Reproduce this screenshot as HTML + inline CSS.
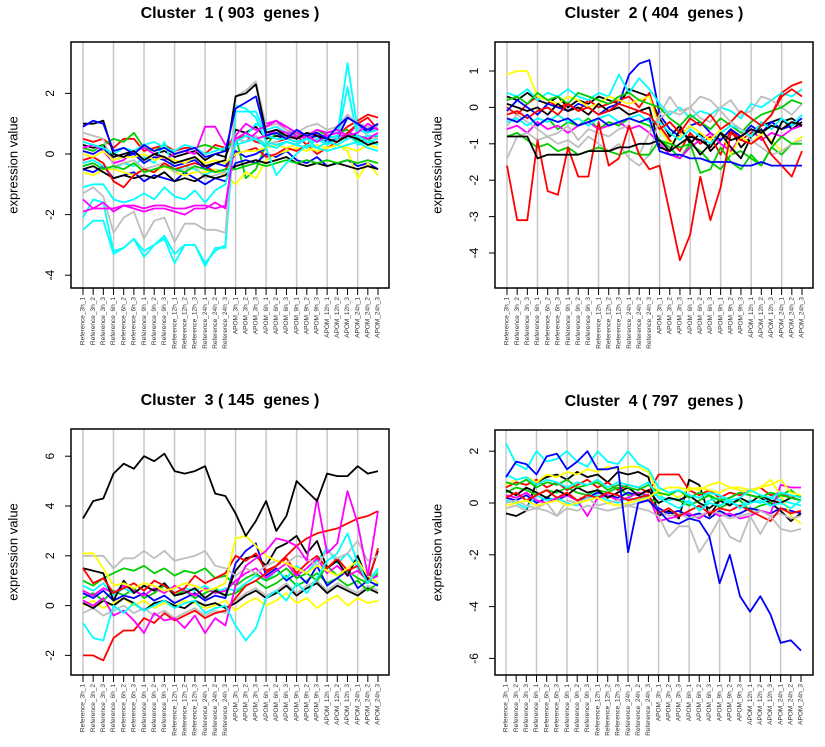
<!DOCTYPE html>
<html><head><meta charset="utf-8"><style>
body{margin:0;background:#fff}
svg{display:block;font-family:"Liberation Sans",sans-serif}
</style></head><body>
<svg id="c" width="825" height="747" viewBox="0 0 825 747" xmlns="http://www.w3.org/2000/svg"></svg>
<script>
const samples=["Reference_3h_1","Reference_3h_2","Reference_3h_3","Reference_6h_1","Reference_6h_2","Reference_6h_3","Reference_9h_1","Reference_9h_2","Reference_9h_3","Reference_12h_1","Reference_12h_2","Reference_12h_3","Reference_24h_1","Reference_24h_2","Reference_24h_3","APOM_3h_1","APOM_3h_2","APOM_3h_3","APOM_6h_1","APOM_6h_2","APOM_6h_3","APOM_9h_1","APOM_9h_2","APOM_9h_3","APOM_12h_1","APOM_12h_2","APOM_12h_3","APOM_24h_1","APOM_24h_2","APOM_24h_3"];
const clusterTitles=["Cluster  1 ( 903  genes )","Cluster  2 ( 404  genes )","Cluster  3 ( 145  genes )","Cluster  4 ( 797  genes )"];
const yTicks1=[-4,-2,0,2];
const yTicks2=[-4,-3,-2,-1,0,1];
const yTicks3=[-2,0,2,4,6];
const yTicks4=[-6,-4,-2,0,2];
const colors1=["black","red","green","blue","cyan","magenta","yellow","gray","black","red","blue","yellow","green","cyan","cyan","cyan","gray","magenta","magenta","cyan","black","blue"];
const series1=[
[0.3,0.2,0.3,-0.1,0.0,0.1,-0.2,0.0,0.1,-0.1,0.0,0.1,-0.2,0.0,-0.1,0.8,0.7,0.9,0.5,0.6,0.5,0.4,0.5,0.6,0.4,0.5,0.7,0.6,0.5,0.6],
[0.5,0.4,0.5,0.2,0.5,0.5,0.1,0.2,0.3,0.1,0.2,0.2,0.0,0.3,0.2,0.5,0.6,0.4,0.3,0.4,0.5,0.6,0.3,0.7,0.5,0.6,0.9,1.1,1.3,1.2],
[0.2,0.1,0.3,0.5,0.4,0.7,0.2,0.1,0.3,0.0,0.1,0.2,0.3,0.2,0.1,0.6,-0.8,-0.5,0.3,0.7,0.6,0.7,0.5,0.8,0.6,0.7,0.8,0.4,0.5,0.3],
[-0.5,-0.6,-0.4,-0.8,-0.7,-0.6,-0.9,-0.7,-0.8,-0.9,-0.6,-0.8,-1.0,-0.8,-0.9,-0.3,-0.2,-0.3,0.0,-0.1,0.1,-0.2,-0.3,-0.1,-0.4,-0.3,-0.2,-0.4,-0.3,-0.5],
[-0.3,-0.2,-0.4,-0.5,-0.3,-0.4,-0.1,-0.3,0.4,-0.6,-0.4,-0.5,-0.7,-0.5,-0.6,0.4,0.6,1.0,0.8,0.9,0.7,0.6,0.5,0.4,0.6,0.5,0.7,0.3,0.4,0.5],
[0.2,0.3,0.1,-0.3,-0.2,0.1,0.2,0.0,-0.2,0.0,0.1,0.0,0.9,0.9,0.3,0.5,0.4,0.7,1.0,1.1,0.8,0.6,0.5,0.4,0.7,0.8,0.6,1.0,0.9,0.8],
[-0.6,-0.7,-0.5,-0.5,-0.6,-0.7,-0.5,-0.6,-0.4,-0.6,-0.7,-0.6,-0.6,-0.5,-0.7,-1.0,-0.6,-0.8,-0.2,0.0,0.1,0.2,0.1,0.3,0.2,0.3,0.1,-0.8,-0.3,-0.7],
[0.7,0.6,0.5,-0.4,-0.3,-0.2,-0.5,-0.4,-0.3,-0.6,-0.5,-0.4,-0.8,-0.7,-0.6,0.5,0.4,0.6,0.3,0.4,0.6,0.5,0.7,0.5,0.3,0.6,1.3,0.9,0.6,0.5],
[-0.5,-0.4,-0.6,-0.8,-0.7,-0.8,-0.7,-0.8,-0.6,-0.9,-0.8,-0.9,-0.7,-0.8,-0.7,-0.4,-0.3,-0.2,-0.3,-0.2,-0.1,-0.3,-0.4,-0.3,-0.4,-0.3,-0.4,-0.5,-0.4,-0.5],
[-0.2,-0.1,-0.3,-0.9,-1.1,-0.7,-0.5,-0.6,-0.3,-0.5,-0.4,-0.3,-0.4,-0.6,-0.5,0.0,0.1,0.2,-0.1,0.0,0.2,0.1,0.3,0.0,0.2,0.4,0.7,1.0,1.2,0.8],
[0.1,0.0,0.2,-0.2,-0.1,0.0,-0.3,-0.1,-0.2,-0.4,-0.3,-0.2,-0.5,-0.3,-0.4,0.1,-0.1,0.0,0.2,0.3,0.4,0.3,0.5,0.6,0.4,0.5,1.2,1.0,0.7,1.0],
[0.0,-0.1,0.1,-0.2,-0.1,-0.1,0.0,-0.2,-0.1,-0.2,-0.3,-0.1,-0.3,-0.2,-0.3,0.0,0.1,0.1,0.2,0.3,0.2,0.3,0.2,0.1,0.2,0.3,0.2,0.1,0.3,0.2],
[-0.4,-0.3,-0.5,-0.4,-0.5,-0.3,-0.6,-0.5,-0.4,-0.5,-0.6,-0.4,-0.5,-0.6,-0.5,-0.5,-0.4,-0.3,-0.4,-0.3,-0.2,-0.3,-0.2,-0.3,-0.2,-0.3,-0.2,-0.3,-0.2,-0.3],
[0.4,0.3,0.2,0.0,0.2,0.1,0.3,0.4,0.2,0.1,0.3,0.2,0.0,0.1,0.2,0.3,0.4,0.5,0.2,-0.7,-0.3,0.0,0.3,0.2,0.1,0.2,0.3,0.4,0.2,0.1],
[-2.5,-2.2,-2.2,-3.3,-3.1,-2.8,-3.4,-3.0,-2.8,-3.6,-3.0,-3.0,-3.7,-3.1,-3.1,1.4,1.4,1.4,0.6,0.5,0.5,0.4,0.5,0.4,0.5,0.6,3.0,0.8,0.7,0.8],
[-2.1,-1.5,-1.6,-3.2,-3.1,-2.8,-3.2,-3.0,-2.7,-3.3,-3.0,-3.0,-3.6,-3.2,-3.0,1.6,1.5,1.2,0.4,0.3,0.4,0.3,0.2,0.5,0.3,0.5,2.2,0.5,0.6,0.6],
[-1.3,-1.1,-1.4,-2.6,-2.1,-1.9,-2.8,-2.2,-2.1,-2.9,-2.3,-2.3,-2.5,-2.5,-2.6,1.9,2.1,2.4,0.9,1.0,0.8,0.7,0.9,1.0,0.8,0.9,1.3,1.0,0.9,0.9],
[-1.9,-1.8,-1.6,-1.9,-1.7,-1.8,-1.9,-1.8,-1.8,-1.9,-2.0,-1.8,-1.8,-1.6,-1.8,0.6,1.0,0.8,0.9,1.1,0.9,0.7,0.6,0.8,0.7,0.8,0.6,0.7,1.0,0.8],
[-1.5,-1.8,-1.8,-1.8,-1.7,-1.7,-1.8,-1.7,-1.7,-1.8,-1.8,-1.7,-1.7,-1.8,-1.7,0.5,0.7,0.5,0.6,0.8,0.7,0.5,0.6,0.4,0.6,0.7,0.5,0.6,0.5,0.7],
[-1.1,-1.0,-1.0,-1.5,-1.6,-1.5,-1.3,-1.5,-1.1,-1.4,-1.5,-1.2,-1.6,-1.2,-1.0,0.4,0.6,0.5,0.3,0.2,0.4,0.3,0.5,0.2,0.4,0.3,0.5,0.6,0.4,0.3],
[1.0,1.0,1.1,0.0,-0.1,0.1,-0.2,0.0,-0.1,-0.3,-0.2,-0.1,-0.4,-0.3,-0.2,1.9,2.0,2.3,0.7,0.8,0.6,0.5,0.7,0.6,0.5,0.4,0.6,0.5,0.3,0.4],
[0.9,1.1,1.0,0.1,0.2,0.0,0.3,0.1,0.2,0.0,0.1,0.2,-0.1,0.0,0.1,1.5,1.7,1.9,0.6,0.7,0.5,0.8,0.6,0.7,0.5,0.9,1.2,1.0,0.8,1.0]];
const colors2=["black","red","green","blue","cyan","magenta","yellow","gray","black","green","cyan","red","gray","green","red","black","blue"];
const series2=[
[0.3,0.2,0.4,0.2,0.1,0.3,0.0,0.2,0.1,0.3,0.2,0.1,0.5,0.4,0.3,-0.3,-0.8,-0.5,-1.0,-0.7,-1.2,-0.9,-0.6,-1.1,-0.8,-0.5,-0.4,-0.3,-0.6,-0.4],
[0.0,-0.2,0.1,0.3,0.2,0.0,0.1,-0.1,0.2,0.0,0.1,0.2,0.3,0.0,0.4,-0.5,-0.9,-1.2,-0.7,-1.0,-0.8,-1.3,-0.6,-0.9,-0.7,-0.5,-0.2,0.4,0.6,0.7],
[-0.3,-0.4,-0.2,-0.5,-0.3,-0.6,-0.4,-0.5,-0.3,-0.6,-0.4,-0.5,-0.3,-0.4,-0.5,-0.9,-1.1,-1.4,-1.0,-1.2,-1.5,-1.7,-1.3,-1.2,-1.4,-1.6,-1.1,-1.3,-1.0,-0.8],
[-0.1,0.2,0.0,-0.2,0.1,0.0,-0.1,0.1,0.0,-0.2,0.0,0.1,0.9,1.2,1.3,-0.2,-0.6,-0.8,-0.5,-0.4,-0.7,-0.9,-0.6,-0.8,-0.5,-0.7,-0.4,-0.6,-0.5,-0.3],
[0.4,0.3,0.5,0.2,0.4,0.3,0.5,0.3,0.2,0.4,0.3,0.9,0.4,0.8,0.5,0.1,-0.2,0.0,-0.3,-0.1,-0.2,0.0,-0.1,-0.3,0.1,0.0,0.2,0.4,0.3,0.5],
[-0.6,-0.5,-0.7,-0.4,-0.6,-0.5,-0.7,-0.5,-0.4,-0.6,-0.5,-0.4,-0.6,-0.5,-0.7,-1.0,-1.3,-1.4,-1.1,-0.9,-0.7,-1.0,-1.2,-0.8,-0.6,-0.9,-0.7,-0.8,-0.6,-0.5],
[0.9,1.0,1.0,0.3,0.2,0.1,0.3,0.2,0.0,0.1,0.3,0.2,0.1,0.2,0.3,-0.6,-1.0,-0.8,-0.5,-0.7,-0.9,-0.6,-1.3,-0.8,-1.0,-0.7,-0.9,-1.2,-1.0,-0.8],
[-0.5,-0.2,-0.4,-0.6,-0.8,-0.7,-0.5,-0.9,-0.6,-0.7,-0.8,-0.6,-0.5,-1.3,-0.7,-0.2,0.3,-0.1,0.0,-0.3,-0.4,0.0,0.2,-0.2,-0.1,0.3,0.2,0.0,-0.2,0.1],
[0.1,0.0,-0.1,0.0,-0.2,0.1,-0.1,0.0,-0.2,0.1,-0.1,0.0,-0.2,-0.1,0.0,-1.1,-1.2,-0.6,-0.9,-1.3,-1.0,-0.7,-1.1,-1.4,-0.8,-0.6,-1.0,-0.4,-0.3,-0.5],
[0.2,0.3,0.1,0.4,0.2,0.3,0.1,0.4,0.3,0.2,0.1,0.3,0.4,0.2,0.1,0.0,-0.3,-0.5,-0.2,-0.4,-0.6,-0.3,-0.5,-0.7,-0.4,-0.2,-0.1,0.0,0.2,0.1],
[-0.4,-0.3,-0.5,-0.3,-0.4,-0.2,-0.4,-0.3,-0.5,-0.3,-0.2,-0.4,-0.3,-0.2,-0.4,-0.4,-0.7,-0.9,-0.6,-0.8,-1.0,-0.7,-0.5,-0.6,-0.8,-0.4,-0.6,-0.3,-0.5,-0.2],
[-0.2,-0.1,-0.3,-0.1,0.0,-0.2,0.1,-0.1,0.0,-0.2,-0.1,0.1,0.0,-0.1,-0.2,-0.6,-0.4,-0.7,-0.3,-0.5,-0.2,-0.6,-0.4,-0.1,-0.3,-0.5,-0.2,0.3,0.5,0.3],
[-1.4,-0.8,-0.7,-0.9,-0.8,-1.0,-0.9,-1.1,-0.8,-1.0,-1.2,-1.0,-1.4,-1.6,-1.3,-0.3,-0.1,-0.2,0.0,0.3,0.2,-0.1,-0.4,-0.6,-0.9,-1.1,-1.3,-1.2,-1.0,-0.9],
[-0.8,-0.7,-0.9,-1.1,-1.0,-1.2,-1.1,-1.3,-1.2,-1.1,-1.2,-1.3,-1.2,-1.3,-1.3,-0.9,-1.0,-1.1,-1.0,-1.8,-1.7,-1.1,-1.5,-1.7,-1.3,-1.6,-1.1,-0.8,-1.0,-1.0],
[-1.6,-3.1,-3.1,-0.9,-2.3,-2.4,-1.1,-1.9,-1.9,-0.4,-1.6,-1.4,-0.5,-1.3,-1.7,-1.6,-2.9,-4.2,-3.5,-1.9,-3.1,-2.2,-0.7,-0.9,-1.0,-0.8,-1.3,-1.6,-1.9,-1.2],
[-0.8,-0.8,-0.8,-1.4,-1.3,-1.3,-1.3,-1.3,-1.2,-1.2,-1.2,-1.1,-1.1,-1.0,-1.0,-0.9,-1.2,-1.0,-0.8,-0.9,-1.1,-0.7,-0.9,-0.8,-0.6,-0.7,-0.5,-0.6,-0.4,-0.5],
[-0.3,-0.4,-0.2,-0.5,-0.3,-0.4,-0.3,-0.5,-0.4,-0.3,-0.5,-0.4,-0.3,-0.4,-0.3,-1.2,-1.3,-1.3,-1.4,-1.4,-1.5,-1.5,-1.5,-1.6,-1.6,-1.5,-1.6,-1.6,-1.6,-1.6]];
const colors3=["yellow","gray","black","green","blue","cyan","green","magenta","black","red","gray","yellow","red","magenta","cyan","black"];
const series3=[
[0.0,0.2,-0.1,0.1,0.3,0.0,0.2,-0.1,0.1,0.0,0.2,0.1,-0.1,0.0,0.2,-0.2,0.1,0.3,0.0,0.2,0.5,0.1,0.3,-0.1,0.2,0.4,0.0,0.3,0.1,0.2],
[-0.3,-0.1,-0.4,-0.2,0.0,-0.3,-0.1,-0.4,-0.2,-0.5,-0.3,-0.1,-0.4,-0.2,-0.3,0.2,0.5,0.7,0.4,0.6,0.9,0.5,0.8,1.0,0.6,0.9,0.7,0.5,0.8,0.6],
[0.1,-0.1,0.2,0.0,0.3,0.1,-0.2,0.1,0.2,0.0,-0.1,0.2,0.0,0.1,-0.1,0.1,0.4,0.6,0.3,0.5,0.8,0.4,0.7,0.9,0.5,0.8,0.6,0.4,0.7,0.5],
[0.3,0.5,0.2,0.6,0.4,0.7,0.3,0.5,0.8,0.4,0.6,0.3,0.5,0.7,0.4,0.5,0.8,1.0,0.7,0.9,1.2,0.8,1.0,1.3,0.9,1.1,0.8,1.0,0.6,0.9],
[0.5,0.3,0.6,0.2,0.4,0.3,0.5,0.2,0.4,0.1,0.3,0.5,0.2,0.4,0.3,1.7,2.2,2.5,1.2,1.5,1.0,1.3,0.9,1.6,0.8,1.1,1.4,0.7,1.0,0.8],
[0.8,0.6,0.9,0.4,0.7,0.5,0.8,0.6,0.9,0.5,0.7,0.6,0.8,0.5,0.7,0.6,0.9,1.2,1.0,1.4,1.1,1.6,1.3,1.8,2.3,1.7,2.1,1.5,1.1,1.4],
[1.0,0.8,1.1,1.3,1.5,1.4,1.6,1.3,1.5,1.2,1.4,1.3,1.5,1.1,1.2,0.8,1.1,1.3,1.0,1.2,1.5,1.1,1.3,1.0,1.6,1.2,1.4,1.1,0.9,1.3],
[0.6,0.4,0.7,0.5,0.8,0.6,0.4,0.7,0.5,0.8,0.6,0.4,0.7,0.5,0.6,1.0,1.3,1.5,1.1,1.4,1.7,1.2,1.5,1.9,1.3,1.6,1.2,1.4,1.0,1.2],
[1.5,1.4,1.3,0.2,1.0,0.5,0.8,0.6,0.9,0.4,0.5,0.7,0.3,0.6,0.4,1.4,1.9,2.0,1.6,2.3,2.5,2.8,2.1,2.6,1.5,1.8,1.2,2.0,1.0,2.2],
[1.5,0.9,1.1,0.5,0.7,0.9,0.6,1.0,0.8,0.5,0.7,1.2,0.9,1.1,1.3,2.0,1.8,2.1,1.4,1.6,1.9,1.3,1.7,2.0,1.5,1.9,1.4,1.6,0.9,2.3],
[2.0,2.0,2.0,1.5,1.9,1.9,2.2,1.9,2.2,1.8,1.9,2.0,2.2,1.6,1.5,1.2,1.5,1.3,1.6,1.8,1.7,2.0,1.9,1.6,2.2,1.9,2.1,2.6,1.8,2.0],
[2.1,2.1,1.5,0.8,0.9,0.7,0.9,0.8,0.6,0.7,0.9,0.8,0.6,0.7,0.9,2.7,2.8,2.4,2.0,1.8,1.7,1.5,1.3,1.6,1.4,1.2,1.5,1.8,1.2,0.9],
[-2.0,-2.0,-2.2,-1.3,-1.0,-1.0,-0.5,-0.7,-0.3,-0.6,-0.4,-0.2,-0.5,-0.3,-0.2,0.3,0.8,1.0,1.3,1.6,2.0,2.4,2.7,2.9,3.0,3.1,3.3,3.5,3.6,3.8],
[0.2,0.0,0.3,-0.4,-0.2,-0.6,-1.1,-0.3,-0.6,-0.5,-0.9,-0.4,-1.1,-0.5,-0.8,0.8,1.6,1.9,2.2,2.7,2.6,2.4,1.8,4.3,2.1,2.5,4.6,3.3,1.2,3.8],
[-0.7,-1.3,-1.4,0.0,-0.3,0.1,-0.2,0.0,0.2,-0.1,0.1,0.2,-0.3,-0.1,0.0,-0.8,-1.4,-0.9,0.3,0.6,0.2,0.9,0.5,1.1,1.8,2.1,2.9,1.7,0.9,1.5],
[3.5,4.2,4.3,5.3,5.7,5.5,6.0,5.8,6.1,5.4,5.3,5.4,5.6,4.5,4.4,3.7,2.8,3.4,4.2,3.0,3.6,5.0,4.6,4.2,5.3,5.2,5.2,5.6,5.3,5.4]];
const colors4=["black","red","green","blue","cyan","magenta","yellow","gray","black","red","green","cyan","yellow","cyan","gray","blue"];
const series4=[
[-0.4,-0.5,-0.3,0.8,1.0,1.1,0.9,1.2,1.0,1.1,0.8,1.2,1.1,1.2,1.0,-0.5,-0.3,-0.6,0.9,0.7,-0.5,0.1,0.2,0.4,0.3,0.2,0.0,-0.3,-0.7,-0.4],
[0.6,0.8,0.7,0.9,0.6,0.8,0.5,0.7,0.9,0.6,0.8,0.5,0.7,0.6,0.4,1.1,1.1,1.1,0.5,0.3,0.5,0.2,0.4,0.3,0.5,0.6,0.3,0.4,0.2,0.3],
[0.4,0.6,0.5,0.3,0.5,0.4,0.6,0.4,0.3,0.5,0.4,0.6,0.3,0.4,0.2,0.0,0.2,0.1,-0.1,0.1,0.3,-0.2,0.0,0.1,-0.3,-0.1,0.0,0.3,0.5,0.2],
[0.2,0.1,0.3,0.0,0.2,0.1,0.3,0.1,0.2,0.4,0.3,0.2,0.4,0.3,0.1,-0.2,-0.4,-0.3,-0.5,-0.4,-0.6,-0.3,-0.5,-0.4,-0.2,-0.3,-0.4,-0.2,-0.3,-0.4],
[0.1,0.0,-0.2,0.3,0.1,0.2,0.0,-0.1,0.2,0.3,0.1,0.0,0.2,0.1,0.3,0.3,0.1,0.2,0.0,-0.2,0.1,0.2,0.0,-0.1,0.1,0.0,0.2,0.1,0.0,-0.1],
[0.3,0.2,0.4,0.1,0.0,0.2,0.3,0.1,-0.5,0.2,0.3,0.1,0.2,0.4,0.3,-0.7,-0.6,-0.5,-0.4,-0.6,-0.3,-0.5,-0.4,-0.6,-0.5,-0.3,-0.4,0.7,0.6,0.6],
[0.7,0.9,1.0,0.8,1.1,1.0,1.2,1.1,1.3,1.2,1.4,1.3,1.4,1.4,1.2,0.3,0.4,0.2,0.6,0.5,0.7,0.8,0.6,0.5,0.4,0.6,0.9,0.3,-0.5,-0.8],
[0.0,0.1,-0.1,-0.2,0.0,-0.5,0.1,0.0,0.2,-0.1,0.0,0.1,-0.1,0.0,0.2,-0.3,-0.5,-0.4,-0.6,-0.5,-0.3,-0.4,-0.6,-0.5,-0.4,-0.3,-0.5,-0.4,-0.6,-0.5],
[0.5,0.3,0.6,0.4,0.2,0.5,0.3,0.6,0.4,0.5,0.2,0.4,0.6,0.3,0.5,0.0,0.2,0.1,0.3,0.0,-0.2,0.1,-0.1,0.2,0.0,0.3,0.1,0.0,0.2,0.1],
[0.2,0.4,0.1,0.3,0.5,0.2,0.4,0.1,0.3,0.2,0.4,0.3,0.1,0.2,0.3,-0.4,-0.2,-0.5,-0.3,-0.1,-0.4,-0.2,-0.3,-0.1,-0.3,-0.5,-0.7,-0.2,-0.4,-0.3],
[0.8,0.7,0.9,0.6,0.8,0.7,0.9,0.6,0.7,0.8,0.5,0.7,0.6,0.5,0.7,0.4,0.3,0.5,0.2,0.4,0.3,0.1,0.2,0.4,0.3,0.2,0.4,0.3,0.2,0.1],
[1.1,0.9,1.0,0.7,0.9,0.8,0.6,0.8,0.7,0.9,0.6,0.8,0.7,0.6,0.8,0.2,0.0,-0.2,0.1,-0.3,0.0,-0.1,0.1,-0.2,0.0,0.1,-0.1,0.0,-0.2,0.1],
[-0.1,0.0,0.1,-0.1,0.0,0.1,-0.1,0.0,0.1,0.2,0.0,-0.1,0.0,0.1,0.2,0.5,0.6,0.6,0.5,0.6,0.5,0.4,0.6,0.6,0.5,0.6,0.7,0.9,0.4,0.3],
[2.3,1.5,1.3,2.0,1.6,1.7,2.0,1.6,1.4,2.0,1.6,1.5,2.0,1.5,1.3,0.6,0.4,0.5,0.3,0.2,0.4,0.3,0.1,0.2,0.5,0.3,0.2,0.4,0.3,0.2],
[-0.2,-0.1,-0.3,-0.2,-0.3,-0.5,-0.2,-0.3,-0.1,-0.2,-0.3,-0.2,-0.1,-0.2,-0.3,-0.5,-1.3,-0.9,-0.9,-1.9,-1.3,-0.6,-1.3,-1.5,-0.5,-1.2,-0.5,-1.0,-1.1,-1.0],
[1.0,1.6,1.5,1.1,1.8,1.9,1.3,1.6,2.0,1.3,1.3,1.4,-1.9,0.0,0.1,-0.3,-0.7,-0.8,-0.6,-0.7,-1.3,-3.1,-2.0,-3.6,-4.2,-3.6,-4.3,-5.4,-5.3,-5.7]];

const palette={black:"#000",red:"#ff0000",green:"#00cd00",blue:"#0000ff",cyan:"#00ffff",magenta:"#ff00ff",yellow:"#ffff00",gray:"#bebebe"};
const svg=document.getElementById('c');
const NS="http://www.w3.org/2000/svg";
function mk(tag,attrs,parent){const e=document.createElementNS(NS,tag);for(const k in attrs)e.setAttribute(k,attrs[k]);(parent||svg).appendChild(e);return e;}
const panels=[
{x0:71,x1:389,y0:42,y1:288,px0:83,px1:378,yv0:154,k:30.3,ticks:yTicks1,series:series1,colors:colors1,title:clusterTitles[0]},
{x0:495,x1:813,y0:42,y1:288,px0:507,px1:802,yv0:107.4,k:36.4,ticks:yTicks2,series:series2,colors:colors2,title:clusterTitles[1]},
{x0:71,x1:389,y0:429,y1:675,px0:83,px1:378,yv0:605.6,k:24.9,ticks:yTicks3,series:series3,colors:colors3,title:clusterTitles[2]},
{x0:495,x1:813,y0:430,y1:675,px0:506,px1:801,yv0:503,k:25.9,ticks:yTicks4,series:series4,colors:colors4,title:clusterTitles[3]}];
panels.forEach((p,pi)=>{
  const g=mk('g',{});
  
  
  const xs=i=>p.px0+i*(p.px1-p.px0)/(samples.length-1);
  const ys=v=>p.yv0-v*p.k;
  const cid='clip'+pi;
  const cp=mk('clipPath',{id:cid},g);mk('rect',{x:p.x0,y:p.y0,width:p.x1-p.x0,height:p.y1-p.y0},cp);
  for(let i=0;i<samples.length;i+=3){
    const l=mk('line',{x1:xs(i),x2:xs(i),y1:p.y0,y2:p.y1,stroke:"#c8c8c8","stroke-width":1.5},g);
    
    
  }
  const lg=mk('g',{'clip-path':'url(#'+cid+')'},g);
  p.series.forEach((s,si)=>{
    const pts=s.map((v,i)=>xs(i).toFixed(1)+','+ys(v).toFixed(1)).join(' ');
    const pl=mk('polyline',{points:pts,fill:'none',stroke:palette[p.colors[si]],'stroke-width':1.8,'stroke-linejoin':'round'},lg);
    
    
  });
  const box=mk('rect',{x:p.x0,y:p.y0,width:p.x1-p.x0,height:p.y1-p.y0,fill:'none',stroke:'#000','stroke-width':1.5},g);
  
  
  p.ticks.forEach(t=>{
    const y=ys(t);
    mk('line',{x1:p.x0-6,x2:p.x0,y1:y,y2:y,stroke:'#000'},g);
    const tx=mk('text',{x:p.x0-20,y:y,'font-size':12,'text-anchor':'middle',transform:'rotate(-90 '+(p.x0-20)+' '+y+')','dominant-baseline':'middle'},g);
    tx.textContent=String(t);
    
    
  });
  samples.forEach((s,i)=>{
    const x=xs(i);
    mk('line',{x1:x,x2:x,y1:p.y1,y2:p.y1+7,stroke:'#000'},g);
    const tx=mk('text',{x:x,y:p.y1+9,'font-size':6.5,fill:'#333','text-anchor':'end','dominant-baseline':'middle',transform:'rotate(-90 '+x+' '+(p.y1+9)+')'},g);
    tx.textContent=s;
    
    
  });
  const cx=(p.x0+p.x1)/2;
  const ti=mk('text',{x:cx,y:p.y0-24,'font-size':16,'font-weight':'bold','text-anchor':'middle','xml:space':'preserve',style:'white-space:pre'},g);
  ti.textContent=p.title;
  
  
  const cy=(p.y0+p.y1)/2, lx=p.x0-57;
  const yl=mk('text',{x:lx,y:cy,'font-size':13,'text-anchor':'middle','dominant-baseline':'middle',transform:'rotate(-90 '+lx+' '+cy+')'},g);
  yl.textContent='expression value';
  
  
});
</script>
</body></html>
